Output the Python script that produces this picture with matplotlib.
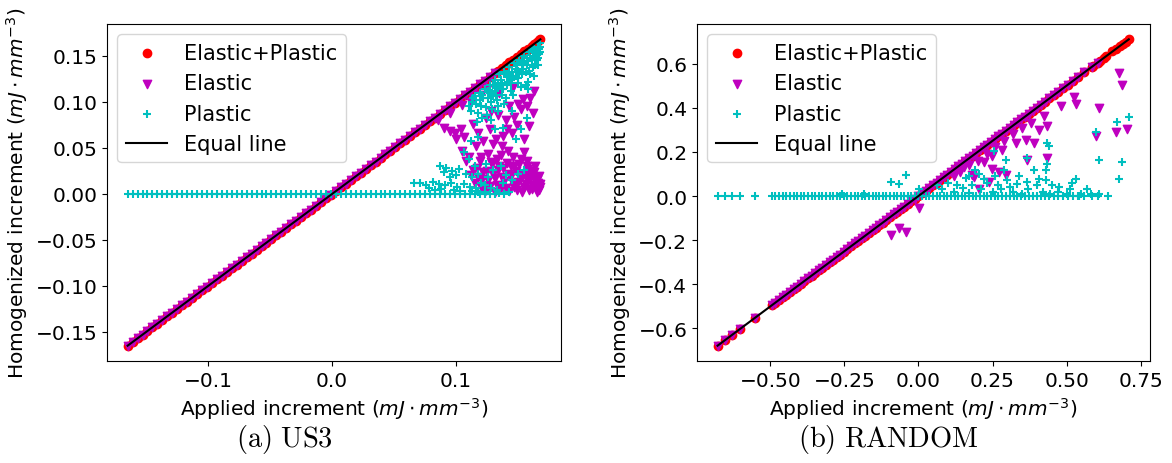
import matplotlib
matplotlib.use("Agg")
import matplotlib.pyplot as plt
import numpy as np

# ---------------- US3 ----------------
# applied increments that stay purely elastic (total = elastic, plastic = 0)
us3_elastic_only = [
    -0.165, -0.161, -0.157, -0.153, -0.149, -0.145, -0.141, -0.137, -0.133, -0.129,
    -0.125, -0.121, -0.117, -0.113, -0.109, -0.105, -0.101, -0.097, -0.093, -0.089,
    -0.085, -0.081, -0.077, -0.073, -0.069, -0.065, -0.061, -0.057, -0.053, -0.049,
    -0.045, -0.041, -0.037, -0.033, -0.029, -0.025, -0.021, -0.017, -0.013, -0.009,
    -0.005, -0.001, 0.003, 0.007, 0.011, 0.015, 0.019, 0.023, 0.027, 0.031,
    0.035, 0.039, 0.043, 0.047, 0.051, 0.055, 0.059, 0.063, 0.067, 0.071,
    0.075, 0.079, 0.083, 0.087, 0.091, 0.095, 0.099, 0.103, 0.107, 0.111,
    0.115, 0.119, 0.123, 0.127, 0.131,
]
# applied increments with plastic response (total still on the equal line)
us3_plastic_applied = [
    0.134, 0.137, 0.140, 0.143, 0.146, 0.149, 0.152, 0.155, 0.158, 0.161,
    0.163, 0.165, 0.167, 0.168,
]
# elastic part of the plastic cases
us3_el_x = [
    0.085, 0.095, 0.105, 0.112, 0.120,
    0.090, 0.095, 0.099, 0.104, 0.100, 0.106,
    0.114, 0.118, 0.122, 0.127, 0.130, 0.116,
    0.125, 0.135, 0.146, 0.154, 0.150, 0.157,
    0.134, 0.140, 0.145, 0.149, 0.138,
    0.105, 0.110, 0.108,
    0.120, 0.128, 0.136, 0.144, 0.152, 0.160, 0.156,
    0.114, 0.118, 0.122, 0.126, 0.130, 0.133, 0.137, 0.140, 0.143, 0.146,
    0.149, 0.152, 0.155, 0.158, 0.161, 0.164, 0.167, 0.166, 0.124, 0.131,
    0.138, 0.147, 0.162, 0.168, 0.120, 0.135, 0.157,
    0.112, 0.115, 0.117, 0.121, 0.123, 0.125, 0.127, 0.129, 0.131, 0.134,
    0.136, 0.139, 0.141, 0.143, 0.144, 0.147, 0.148, 0.150, 0.151, 0.153,
    0.154, 0.156, 0.158, 0.159, 0.160, 0.162, 0.163, 0.165, 0.165, 0.166,
    0.167, 0.168, 0.164, 0.157, 0.146, 0.133, 0.126, 0.119, 0.142, 0.155,
    0.132, 0.137, 0.141, 0.147, 0.152, 0.155, 0.159, 0.162, 0.160, 0.163,
    0.143, 0.128, 0.124,
]
us3_el_y = [
    0.080, 0.088, 0.097, 0.100, 0.108,
    0.072, 0.068, 0.066, 0.070, 0.060, 0.062,
    0.076, 0.066, 0.058, 0.070, 0.054, 0.052,
    0.114, 0.110, 0.116, 0.103, 0.098, 0.096,
    0.086, 0.080, 0.066, 0.075, 0.063,
    0.047, 0.040, 0.036,
    0.040, 0.035, 0.042, 0.030, 0.038, 0.025, 0.020,
    0.026, 0.018, 0.024, 0.015, 0.022, 0.010, 0.018, 0.006, 0.022, 0.012,
    0.004, 0.017, 0.008, 0.014, 0.005, 0.010, 0.004, 0.012, 0.004, 0.002,
    0.028, 0.030, 0.018, 0.008, 0.008, 0.030, 0.030,
    0.020, 0.012, 0.028, 0.016, 0.003, 0.025, 0.009, 0.032, 0.017, 0.026,
    0.006, 0.014, 0.034, 0.003, 0.019, 0.008, 0.025, 0.013, 0.033, 0.002,
    0.021, 0.011, 0.027, 0.004, 0.017, 0.009, 0.024, 0.002, 0.015, 0.007,
    0.019, 0.011, 0.030, 0.036, 0.040, 0.038, 0.043, 0.036, 0.047, 0.045,
    0.060, 0.052, 0.070, 0.084, 0.092, 0.060, 0.074, 0.088, 0.104, 0.112,
    0.096, 0.090, 0.082,
]
# plastic part of the plastic cases
us3_pl_x = [
    0.112, 0.116, 0.118, 0.122, 0.124, 0.126, 0.128, 0.130, 0.132, 0.134,
    0.136, 0.138, 0.140, 0.142, 0.144, 0.146, 0.148, 0.150, 0.152, 0.154,
    0.156, 0.158, 0.160, 0.162, 0.163, 0.164, 0.165, 0.166, 0.167, 0.168,
    0.161, 0.157, 0.153, 0.149, 0.145, 0.141, 0.137, 0.133, 0.129, 0.125,
    0.121, 0.117,
    0.151, 0.158, 0.128, 0.131, 0.138, 0.145, 0.148, 0.152, 0.157, 0.118, 0.112,
    0.106, 0.110, 0.115, 0.124, 0.130, 0.136, 0.140, 0.145, 0.150, 0.155,
    0.138, 0.126, 0.120,
    0.087, 0.092, 0.097, 0.102, 0.090,
    0.066, 0.071, 0.076, 0.081, 0.086, 0.091, 0.096, 0.101, 0.106, 0.111, 0.116,
    0.135, 0.139, 0.143,
    0.110, 0.113, 0.115, 0.119, 0.120, 0.123, 0.127, 0.129, 0.131, 0.133,
    0.135, 0.137, 0.139, 0.141, 0.143, 0.145, 0.147, 0.149, 0.151, 0.153,
    0.155, 0.157, 0.159, 0.161, 0.163, 0.164, 0.166, 0.167, 0.168, 0.160,
    0.150, 0.144, 0.139, 0.134, 0.156,
    0.095, 0.100, 0.108, 0.113, 0.118, 0.123, 0.128, 0.133, 0.078, 0.083,
    0.088, 0.098, 0.103, 0.113, 0.118, 0.123,
    0.114, 0.121, 0.126, 0.131, 0.136, 0.142, 0.146, 0.150, 0.154, 0.158,
    0.162, 0.165, 0.168, 0.119, 0.127, 0.134, 0.140, 0.148, 0.153, 0.159,
    0.164, 0.166, 0.144, 0.137, 0.130,
]
us3_pl_y = [
    0.090, 0.098, 0.088, 0.104, 0.094, 0.112, 0.100, 0.118, 0.108, 0.096,
    0.124, 0.114, 0.104, 0.130, 0.120, 0.108, 0.136, 0.126, 0.116, 0.142,
    0.132, 0.122, 0.148, 0.138, 0.128, 0.154, 0.146, 0.160, 0.152, 0.164,
    0.156, 0.148, 0.140, 0.132, 0.126, 0.118, 0.108, 0.102, 0.092, 0.086,
    0.082, 0.078,
    0.132, 0.114, 0.080, 0.070, 0.072, 0.090, 0.060, 0.070, 0.082, 0.062, 0.058,
    0.045, 0.038, 0.030, 0.033, 0.026, 0.030, 0.020, 0.015, 0.022, 0.026,
    0.012, 0.018, 0.012,
    0.030, 0.028, 0.025, 0.027, 0.024,
    0.012, 0.012, 0.010, 0.013, 0.011, 0.010, 0.012, 0.008, 0.011, 0.008, 0.006,
    0.001, 0.000, 0.002,
    0.096, 0.100, 0.106, 0.110, 0.096, 0.114, 0.118, 0.110, 0.124, 0.116,
    0.130, 0.121, 0.132, 0.127, 0.138, 0.133, 0.142, 0.140, 0.146, 0.130,
    0.150, 0.140, 0.154, 0.146, 0.158, 0.140, 0.148, 0.158, 0.154, 0.130,
    0.120, 0.112, 0.098, 0.090, 0.118,
    0.018, 0.020, 0.022, 0.018, 0.022, 0.010, 0.006, 0.004, 0.006, 0.004,
    0.005, 0.004, 0.003, 0.003, 0.002, 0.002,
    0.104, 0.108, 0.104, 0.112, 0.118, 0.122, 0.128, 0.134, 0.136, 0.144,
    0.150, 0.155, 0.160, 0.102, 0.110, 0.120, 0.130, 0.128, 0.144, 0.134,
    0.148, 0.140, 0.124, 0.114, 0.106,
]

# ---------------- RANDOM ----------------
rnd_elastic_only = [
    -0.678, -0.652, -0.628, -0.603, -0.552, -0.494, -0.485, -0.470, -0.458, -0.447,
    -0.433, -0.420, -0.410, -0.398, -0.385, -0.372, -0.360, -0.349, -0.337, -0.325,
    -0.312, -0.300, -0.288, -0.276, -0.265, -0.252, -0.240, -0.228, -0.215, -0.204,
    -0.192, -0.180, -0.168, -0.155, -0.143, -0.132, -0.120, -0.108, -0.095, -0.083,
    -0.071, -0.060, -0.048, -0.036, -0.024, -0.012, 0.000, 0.012, 0.024, 0.036,
    0.048, 0.061, 0.073, 0.085, 0.097, 0.110, 0.122, 0.134, 0.146, 0.158,
    0.171, 0.183, 0.195, 0.208, 0.220, 0.232, 0.245, 0.257, 0.270, 0.283,
    0.295, 0.308, 0.321, 0.334, 0.347, 0.360, 0.373, 0.386, 0.400, 0.414,
    0.428, 0.442, 0.457, 0.472, 0.488, 0.505, 0.522, 0.540, 0.560, 0.585, 0.605,
]
rnd_plastic_applied = [0.590, 0.612, 0.625, 0.634, 0.655, 0.668, 0.680, 0.690, 0.700, 0.710]
rnd_el_x = [
    0.678, 0.688, 0.610, 0.533, 0.668, 0.705, 0.600, 0.482, 0.435, 0.408,
    0.391, 0.364, 0.330, 0.435, 0.368, 0.296, 0.249, 0.205, 0.182, 0.283,
    0.249, 0.425, 0.526,
    -0.092, -0.064, -0.041, 0.003,
    0.155, 0.189, 0.222, 0.273, 0.239,
    0.120, 0.140, 0.170, 0.200, 0.230, 0.260, 0.290, 0.320, 0.350, 0.380,
]
rnd_el_y = [
    0.556, 0.503, 0.400, 0.415, 0.292, 0.305, 0.270, 0.407, 0.319, 0.297,
    0.240, 0.253, 0.240, 0.174, 0.165, 0.094, 0.121, 0.033, 0.094, 0.209,
    0.182, 0.363, 0.450,
    -0.178, -0.147, -0.165, -0.055,
    0.130, 0.086, 0.152, 0.108, 0.064,
    0.090, 0.110, 0.140, 0.160, 0.190, 0.220, 0.250, 0.280, 0.310, 0.330,
]
rnd_pl_x = [
    0.712, 0.671, 0.600, 0.610, 0.688, 0.678, 0.533, 0.583, 0.610, 0.435,
    0.440, 0.435, 0.430, 0.368, 0.391, 0.408, 0.430, 0.368, 0.334, 0.513,
    0.476, 0.445, 0.296, 0.256, 0.300, 0.310, 0.190, 0.205, 0.170, 0.220,
    -0.257, -0.183, -0.092, -0.064, -0.041, 0.003, 0.064,
    0.120, 0.150, 0.170, 0.250, 0.280, 0.350, 0.543, 0.640,
    0.080, 0.100, 0.130, 0.160, 0.180, 0.210, 0.230, 0.260, 0.270, 0.290,
    0.320, 0.340, 0.370, 0.400, 0.420, 0.450, 0.470, 0.500, 0.520, 0.550, 0.570,
]
rnd_pl_y = [
    0.358, 0.336, 0.292, 0.165, 0.152, 0.077, 0.077, 0.011, 0.007, 0.240,
    0.226, 0.143, 0.120, 0.174, 0.117, 0.077, 0.073, 0.064, 0.055, 0.033,
    0.042, 0.011, 0.165, 0.204, 0.073, 0.042, 0.120, 0.100, 0.090, 0.077,
    0.011, 0.011, 0.064, 0.055, 0.094, 0.033, 0.050,
    0.020, 0.035, 0.015, 0.020, 0.030, 0.010, 0.000, 0.000,
    0.030, 0.060, 0.050, 0.080, 0.050, 0.030, 0.060, 0.090, 0.050, 0.120,
    0.020, 0.090, 0.030, 0.050, 0.020, 0.050, 0.020, 0.010, 0.060, 0.010, 0.030,
]

FS = 14.5
plt.rcParams["font.size"] = FS


def draw_panel(ax, elastic_only, plastic_applied, el_x, el_y, pl_x, pl_y):
    elastic_only = np.array(elastic_only)
    total_x = np.concatenate([elastic_only, plastic_applied])
    ax.scatter(total_x, total_x, s=36, marker="o", color="r", label="Elastic+Plastic")
    ax.scatter(np.concatenate([elastic_only, el_x]), np.concatenate([elastic_only, el_y]),
               s=36, marker="v", color="m", label="Elastic")
    ax.scatter(np.concatenate([elastic_only, pl_x]),
               np.concatenate([np.zeros_like(elastic_only), pl_y]),
               s=36, marker="+", color="c", label="Plastic")
    lims = [total_x.min(), total_x.max()]
    ax.plot(lims, lims, color="k", lw=1.5, label="Equal line")
    ax.set_xlabel(r"Applied increment ($mJ \cdot mm^{-3}$)")
    ax.set_ylabel(r"Homogenized increment ($mJ \cdot mm^{-3}$)")
    ax.legend(loc="upper left", fontsize=15)


fig = plt.figure(figsize=(11.72, 4.64), dpi=100)

ax1 = fig.add_axes([0.0913, 0.2198, 0.3874, 0.7263])
draw_panel(ax1, us3_elastic_only, us3_plastic_applied, us3_el_x, us3_el_y, us3_pl_x, us3_pl_y)
ax1.set_xticks([-0.1, 0.0, 0.1])
ax1.set_yticks([-0.15, -0.10, -0.05, 0.0, 0.05, 0.10, 0.15])

ax2 = fig.add_axes([0.5947, 0.2198, 0.3865, 0.7263])
draw_panel(ax2, rnd_elastic_only, rnd_plastic_applied, rnd_el_x, rnd_el_y, rnd_pl_x, rnd_pl_y)
ax2.set_xticks([-0.5, -0.25, 0.0, 0.25, 0.5, 0.75])
ax2.set_yticks([-0.6, -0.4, -0.2, 0.0, 0.2, 0.4, 0.6])

fig.text(0.243, 0.036, r"$\mathrm{(a)\ US3}$", ha="center", va="baseline",
         fontsize=20.5, math_fontfamily="cm")
fig.text(0.758, 0.036, r"$\mathrm{(b)\ RANDOM}$", ha="center", va="baseline",
         fontsize=20.5, math_fontfamily="cm")

fig.savefig("out.png", dpi=100)
